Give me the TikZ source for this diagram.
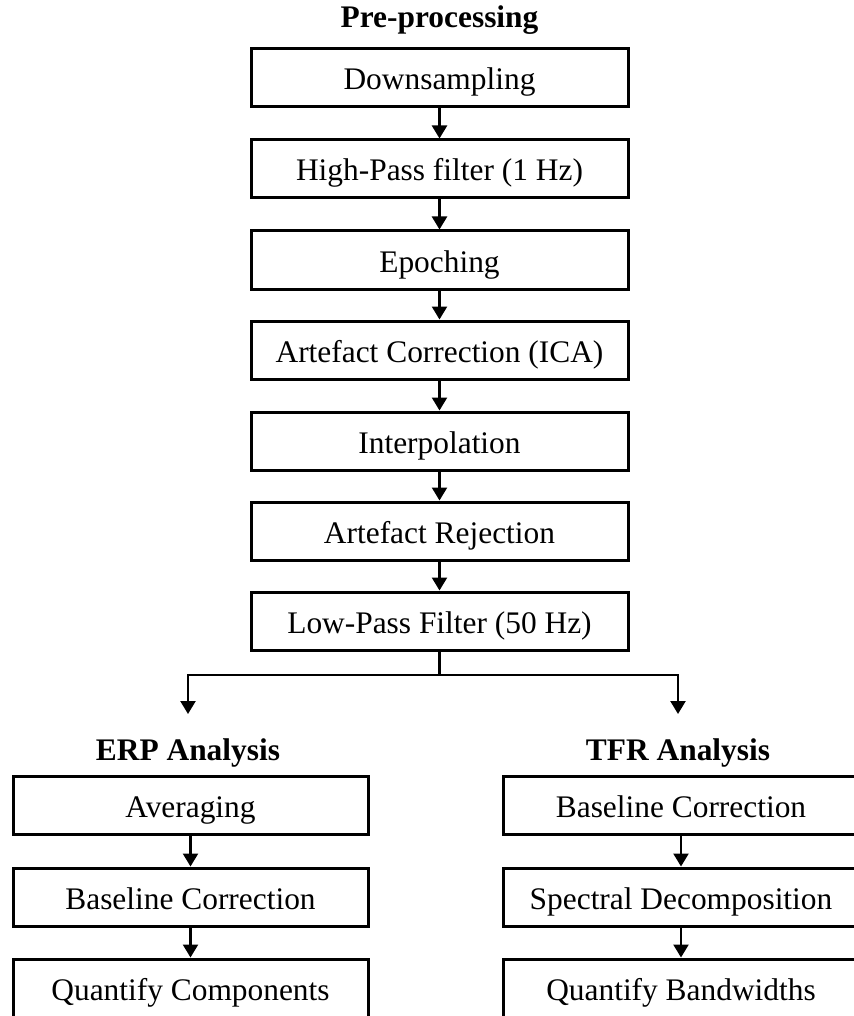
\documentclass[tikz,border=0pt]{standalone}
\usepackage{fontspec}
\setmainfont{Liberation Serif}
\usepackage{tikz}
\usetikzlibrary{arrows.meta, positioning}
\tikzstyle{sbox}=[rectangle, draw=black, line width=1.5pt, fill=white,
  font=\fontsize{15.7}{19}\selectfont, text centered,
  inner sep=0pt, text height=12pt, text depth=0pt,
  minimum width=188.5pt, minimum height=29pt]
\tikzstyle{subbox}=[sbox, minimum width=177.5pt]
\tikzstyle{shead}=[font=\fontsize{15.7}{19}\selectfont\bfseries, anchor=base]
\tikzstyle{sarr}=[-{Triangle[length=6.5pt,width=7.5pt]}, line width=1.2pt]
\tikzstyle{sline}=[line width=1.2pt]

\begin{document}
\begin{tikzpicture}[x=0.5pt, y=-0.5pt]
        \useasboundingbox (0,0) rectangle (853,1016);
        % pre-processing chain
        \node[shead] (pre) at (439.5,28) {Pre-processing};
        \node[sbox] (down) at (439.5,78) {Downsampling};
        \node[sbox] (hpf) at (439.5,169) {High-Pass filter (1 Hz)};
        \node[sbox] (epo) at (439.5,260) {Epoching};
        \node[sbox] (ica) at (439.5,350) {Artefact Correction (ICA)};
        \node[sbox] (interp) at (439.5,441) {Interpolation};
        \node[sbox] (rej) at (439.5,531) {Artefact Rejection};
        \node[sbox] (lpf) at (439.5,621) {Low-Pass Filter (50 Hz)};
        \draw[sarr] (down)--(hpf);
        \draw[sarr] (hpf)--(epo);
        \draw[sarr] (epo)--(ica);
        \draw[sarr] (ica)--(interp);
        \draw[sarr] (interp)--(rej);
        \draw[sarr] (rej)--(lpf);
        % split
        \coordinate (split) at (439.5,675);
        \coordinate (erptip) at (188,714);
        \coordinate (tfrtip) at (678,714);
        \draw[sline] (lpf.south) -- (split);
        \draw[sarr] (split) -| (erptip);
        \draw[sarr] (split) -| (tfrtip);
        % ERP branch
        \node[shead] (erp) at (188,760) {ERP Analysis};
        \node[subbox] (avg) at (190.5,805) {Averaging};
        \node[subbox] (erpbase) at (190.5,897) {Baseline Correction};
        \node[subbox] (comp) at (190.5,988) {Quantify Components};
        \draw[sarr] (avg)--(erpbase);
        \draw[sarr] (erpbase)--(comp);
        % TFR branch
        \node[shead] (tfr) at (678,760) {TFR Analysis};
        \node[subbox] (tfrbase) at (681,805) {Baseline Correction};
        \node[subbox] (spec) at (681,897) {Spectral Decomposition};
        \node[subbox] (band) at (681,988) {Quantify Bandwidths};
        \draw[sarr] (tfrbase)--(spec);
        \draw[sarr] (spec)--(band);
      \end{tikzpicture}
\end{document}
